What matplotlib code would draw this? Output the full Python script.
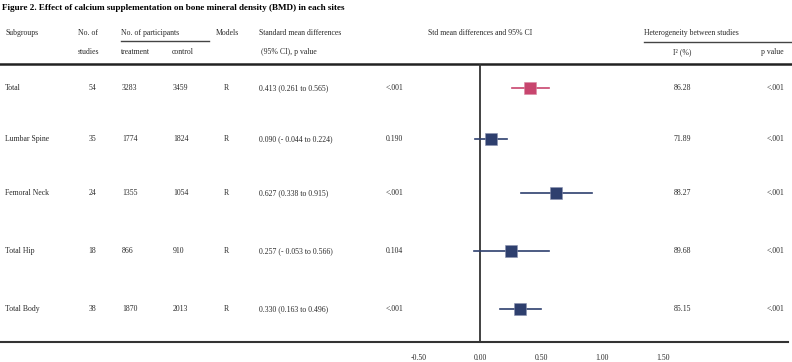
import matplotlib.pyplot as plt

# Dados do forest plot
subgrupos = ['Total', 'Lumbar Spine', 'Femoral Neck', 'Total Hip', 'Total Body']
n_estudos = [54, 35, 24, 18, 38]
n_tratamento = [3283, 1774, 1355, 866, 1870]
n_controle = [3459, 1824, 1054, 910, 2013]
modelos = ['R', 'R', 'R', 'R', 'R']
smd = [0.413, 0.090, 0.627, 0.257, 0.330]
ic_inf = [0.261, -0.044, 0.338, -0.053, 0.163]
ic_sup = [0.565, 0.224, 0.915, 0.566, 0.496]
p_valor = ['<.001', '0.190', '<.001', '0.104', '<.001']
i2 = [86.28, 71.89, 88.27, 89.68, 85.15]
p_het = ['<.001', '<.001', '<.001', '<.001', '<.001']
ticks = [-0.50, 0.00, 0.50, 1.00, 1.50]

# Layout (em pixels da figura)
W, H = 792, 362
linhas_y = [88, 139, 193, 251, 309]
ROSA = '#c8456e'
AZUL = '#2e3f6e'
FS = 5.6
plt.rcParams['font.family'] = ['Liberation Serif', 'DejaVu Serif']

fig = plt.figure(figsize=(W / 100, H / 100), dpi=100)
ax = fig.add_axes([0, 0, 1, 1])
ax.set_xlim(0, W)
ax.set_ylim(H, 0)
ax.axis('off')

# Título
ax.text(2, 8, 'Figure 2. Effect of calcium supplementation on bone mineral density (BMD) in each sites',
        fontsize=6.6, fontweight='bold', va='center', ha='left')

# Cabeçalhos
def txt(x, y, s, ha='left'):
    ax.text(x, y, s, fontsize=FS, va='center', ha=ha, color='#2a2a2a')

txt(5, 33, 'Subgroups')
txt(78, 33, 'No. of')
txt(78, 52, 'studies')
txt(121, 33, 'No. of participants')
txt(121, 52, 'treatment')
txt(172, 52, 'control')
txt(216, 33, 'Models')
txt(259, 33, 'Standard mean differences')
txt(261, 52, '(95% CI), p value')
txt(480, 33, 'Std mean differences and 95% CI', ha='center')
txt(644, 33, 'Heterogeneity between studies')
txt(682, 52, 'I² (%)', ha='center')
txt(784, 52, 'p value', ha='right')

ax.plot([121, 209], [41, 41], color='#444444', lw=1.0)
ax.plot([644, 792], [42, 42], color='#444444', lw=1.0)
ax.plot([0, 792], [64, 64], color='#222222', lw=1.8)
ax.plot([0, 788], [342, 342], color='#333333', lw=1.5)

# Linhas da tabela
for k, y in enumerate(linhas_y):
    txt(5, y, subgrupos[k])
    txt(96, y, str(n_estudos[k]), ha='right')
    txt(122, y, str(n_tratamento[k]))
    txt(173, y, str(n_controle[k]))
    txt(226, y, modelos[k], ha='center')
    txt(259, y, f'{smd[k]:.3f} ({ic_inf[k]:.3f} to {ic_sup[k]:.3f})'.replace('(-', '(- '))
    txt(386, y, p_valor[k])
    txt(682, y, f'{i2[k]:.2f}', ha='center')
    txt(784, y, p_het[k], ha='right')

# Forest plot: 0 em x=480 px, 122 px por unidade
x0_px, esc = 480, 122
esq_px, dir_px = 400, 690
axf = fig.add_axes([esq_px / W, (H - 342) / H, (dir_px - esq_px) / W, (342 - 64) / H])
axf.set_xlim((esq_px - x0_px) / esc, (dir_px - x0_px) / esc)
axf.set_ylim(342, 64)
axf.patch.set_alpha(0)
for s in axf.spines.values():
    s.set_visible(False)
axf.axvline(0, color='#333333', lw=1.3)
for k, y in enumerate(linhas_y):
    cor = ROSA if k == 0 else AZUL
    axf.plot([ic_inf[k], ic_sup[k]], [y, y], color=cor, lw=1.2)
    axf.scatter([smd[k]], [y], marker='s', s=85 if k == 0 else 75, color=cor,
                edgecolors='#8a93b0' if k else '#d98aa3', linewidths=0.4, zorder=3)
axf.set_yticks([])
axf.set_xticks(ticks)
axf.set_xticklabels([f'{t:.2f}' for t in ticks], fontsize=FS, color='#2a2a2a')
axf.tick_params(axis='x', length=0, pad=9)

fig.savefig('out.png', dpi=100)
